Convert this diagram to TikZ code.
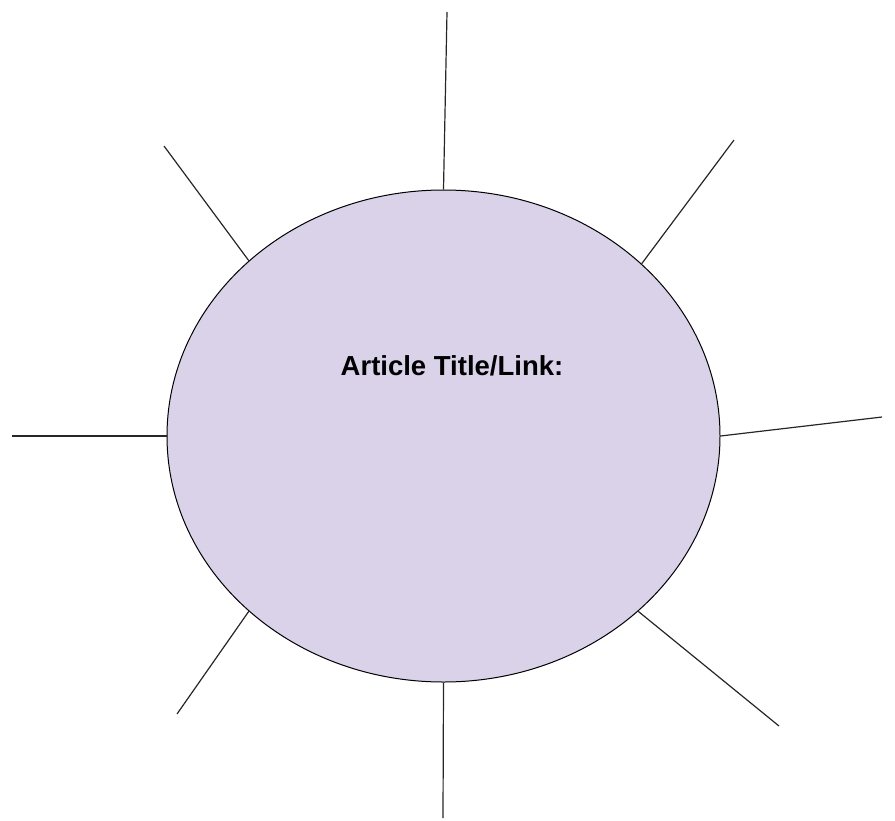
\documentclass[tikz,border=0pt]{standalone}
\usepackage{fontspec}
\setmainfont{Liberation Sans}
\usetikzlibrary{shapes.geometric}
\definecolor{lav}{HTML}{D9D2E9}
\begin{document}
\begin{tikzpicture}[x=1pt,y=-1pt,
  spoke/.style={draw=black!85,line width=1.2pt},
  hub/.style={ellipse,draw=black,line width=1pt,fill=lav,minimum width=553pt,minimum height=492pt,inner sep=0pt}]
\useasboundingbox (0,0) rectangle (895,820);
\node[hub] (e) at (443.5,436) {};
\node[font=\bfseries\fontsize{27.5}{30}\selectfont,anchor=base] (t) at (452,375) {Article Title/Link:};
\coordinate (pN) at (447,12);
\coordinate (pNE) at (734,140);
\coordinate (pE) at (882,417);
\coordinate (pSE) at (779,726);
\coordinate (pS) at (443,818);
\coordinate (pSW) at (177,714);
\coordinate (pW) at (12,436);
\coordinate (pNW) at (164,146);
\draw[spoke] (e.north) -- (pN);
\draw[spoke] (e.south) -- (pS);
\draw[spoke] (e.west) -- (pW);
\draw[spoke] (e.east) -- (pE);
\draw[spoke] (e.41) -- (pNE);
\draw[spoke] (e.138) -- (pNW);
\draw[spoke] (e.222) -- (pSW);
\draw[spoke] (e.318) -- (pSE);
\end{tikzpicture}
\end{document}
